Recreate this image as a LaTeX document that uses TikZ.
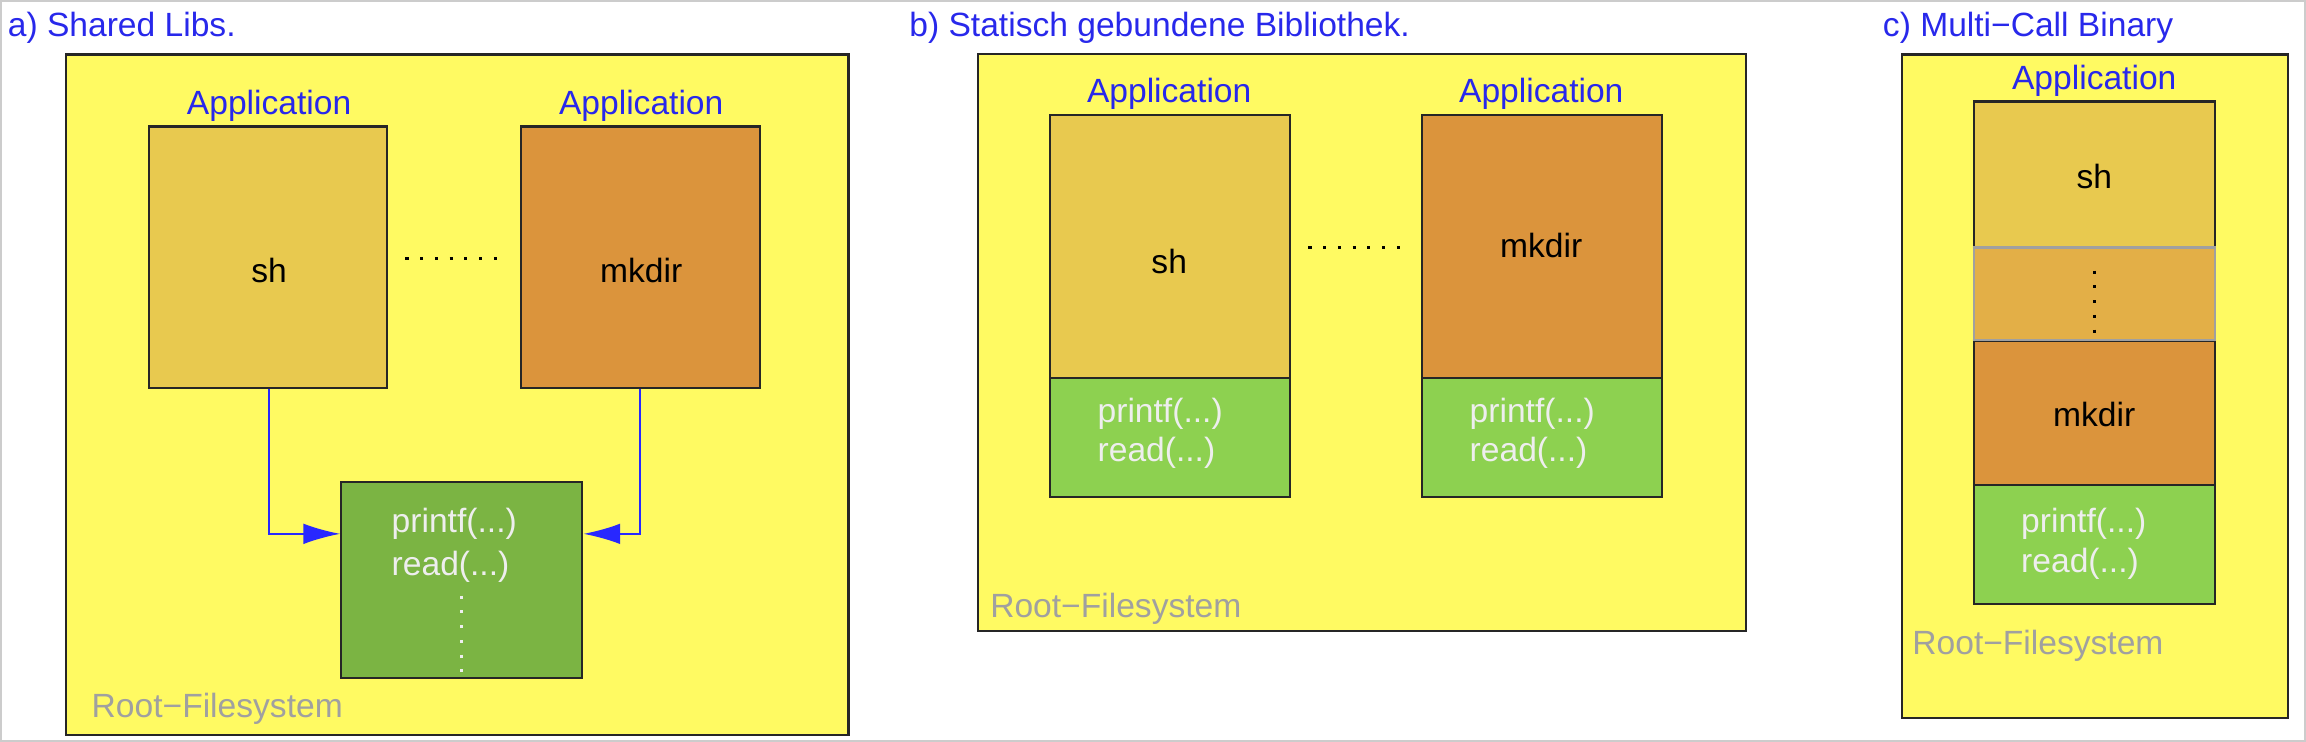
\documentclass[tikz,border=0pt]{standalone}
\usepackage{fontspec}
\setmainfont{Liberation Sans}
\usetikzlibrary{arrows.meta}
\definecolor{fsyel}{HTML}{FFFA62}
\definecolor{shcol}{HTML}{E8C94F}
\definecolor{mkcol}{HTML}{DB943C}
\definecolor{midcol}{HTML}{E3AF47}
\definecolor{libdark}{HTML}{7BB443}
\definecolor{liblight}{HTML}{8DD150}
\definecolor{ttlblue}{RGB}{40,40,235}
\definecolor{arrblue}{RGB}{40,40,255}
\definecolor{rootgray}{HTML}{A0A0A0}
\definecolor{libtxt}{HTML}{EEEEEE}
\tikzset{
  fsbox/.style={draw=black!85, line width=0.8pt, fill=fsyel},
  appbox/.style={draw=black!85, line width=0.8pt, inner sep=0pt},
  ttl/.style={anchor=base west, text=ttlblue, inner sep=0pt, font=\fontsize{13}{15}\selectfont},
  applbl/.style={anchor=base, text=ttlblue, inner sep=0pt, font=\fontsize{13}{15}\selectfont},
  prog/.style={anchor=base, text=black, inner sep=0pt, font=\fontsize{13}{15}\selectfont},
  libtext/.style={anchor=base west, text=libtxt, inner sep=0pt, font=\fontsize{13}{15}\selectfont},
  rootlbl/.style={anchor=base west, text=rootgray, inner sep=0pt, font=\fontsize{13}{15}\selectfont},
  dots/.style={line width=1.2pt, dash pattern=on 1.2pt off 4.5pt},
  link/.style={arrblue, line width=0.7pt},
  linkhead/.style={arrblue, line width=0.7pt, -{Latex[length=0.5cm,width=0.28cm]}}
}
\begin{document}
\begin{tikzpicture}[x=0.02cm,y=-0.02cm]
\useasboundingbox (0,0) rectangle (1568,504.5);
\draw[black!20, line width=0.8pt] (0.5,0.5) rectangle (1567.5,504);

% ---------- a) Shared Libs.
\node[ttl] (ta) at (5,25) {a) Shared Libs.};
\node[fsbox, minimum width=10.64cm, minimum height=9.26cm, inner sep=0pt] (fsa) at (311,268.5) {};
\node[applbl] (appa1) at (183,78) {Application};
\node[applbl] (appa2) at (436,78) {Application};
\node[appbox, fill=shcol, minimum width=3.24cm, minimum height=3.56cm] (sha) at (182,175) {};
\node[appbox, fill=mkcol, minimum width=3.26cm, minimum height=3.56cm] (mka) at (435.5,175) {};
\node[prog] (shta) at (183,192) {sh};
\node[prog] (mkta) at (436,192) {mkdir};
\draw[dots] ([xshift=0.24cm]sha.east |- 0,176) coordinate (da1) -- ([xshift=-0.2cm]mka.west |- 0,176) coordinate (da2);
\node[appbox, fill=libdark, minimum width=3.28cm, minimum height=2.66cm] (liba) at (314,394.5) {};
\node[libtext] (pa) at (266,362) {printf(...)};
\node[libtext] (ra) at (266,391) {read(...)};
\draw[dots, libtxt] (314,405) coordinate (va1) -- (314,458) coordinate (va2);
\coordinate (ca1) at (183,363);
\coordinate (ca2) at (435,363);
\draw[linkhead] (sha.south -| ca1) -- (ca1) -- (liba.west |- ca1);
\draw[linkhead] (mka.south -| ca2) -- (ca2) -- (liba.east |- ca2);
\node[rootlbl] (rfa) at (62,488) {Root−Filesystem};

% ---------- b) Statisch gebundene Bibliothek.
\node[ttl] (tb) at (618,25) {b) Statisch gebundene Bibliothek.};
\node[fsbox, minimum width=10.44cm, minimum height=7.84cm, inner sep=0pt] (fsb) at (926,233) {};
\node[applbl] (appb1) at (795,70) {Application};
\node[applbl] (appb2) at (1048,70) {Application};
\node[appbox, fill=shcol, minimum width=3.26cm, minimum height=3.58cm] (shb) at (795.5,167.5) {};
\node[appbox, fill=liblight, minimum width=3.26cm, minimum height=1.62cm] (libb1) at (795.5,297.5) {};
\node[appbox, fill=mkcol, minimum width=3.26cm, minimum height=3.58cm] (mkb) at (1048.5,167.5) {};
\node[appbox, fill=liblight, minimum width=3.26cm, minimum height=1.62cm] (libb2) at (1048.5,297.5) {};
\node[prog] (shtb) at (795,186) {sh};
\node[prog] (mktb) at (1048,175) {mkdir};
\draw[dots] ([xshift=0.24cm]shb.east |- 0,168) coordinate (db1) -- ([xshift=-0.2cm]mkb.west |- 0,168) coordinate (db2);
\node[libtext] (pb1) at (746,287) {printf(...)};
\node[libtext] (rb1) at (746,314) {read(...)};
\node[libtext] (pb2) at (999,287) {printf(...)};
\node[libtext] (rb2) at (999,314) {read(...)};
\node[rootlbl] (rfb) at (673,420) {Root−Filesystem};

% ---------- c) Multi-Call Binary
\node[ttl] (tc) at (1280,25) {c) Multi−Call Binary};
\node[fsbox, minimum width=5.26cm, minimum height=9.02cm, inner sep=0pt] (fsc) at (1424.5,262.5) {};
\node[applbl] (appc) at (1424,61) {Application};
\node[appbox, fill=shcol, minimum width=3.28cm, minimum height=1.98cm] (shc) at (1424,118.5) {};
\node[appbox, fill=midcol, draw=rootgray, minimum width=3.28cm, minimum height=1.28cm] (midc) at (1424,200) {};
\node[appbox, fill=mkcol, minimum width=3.28cm, minimum height=1.96cm] (mkc) at (1424,281) {};
\node[appbox, fill=liblight, minimum width=3.28cm, minimum height=1.62cm] (libc) at (1424,370.5) {};
\draw[rootgray, line width=0.8pt] (shc.south west) -- (shc.south east);
\draw[rootgray, line width=0.8pt] (mkc.north west) -- (mkc.north east);
\node[prog] (shtc) at (1424,128) {sh};
\node[prog] (mktc) at (1424,290) {mkdir};
\draw[dots] (1424,184) coordinate (vc1) -- (1424,232) coordinate (vc2);
\node[libtext] (pc) at (1374,362) {printf(...)};
\node[libtext] (rc) at (1374,389) {read(...)};
\node[rootlbl] (rfc) at (1300,445) {Root−Filesystem};
\end{tikzpicture}
\end{document}
